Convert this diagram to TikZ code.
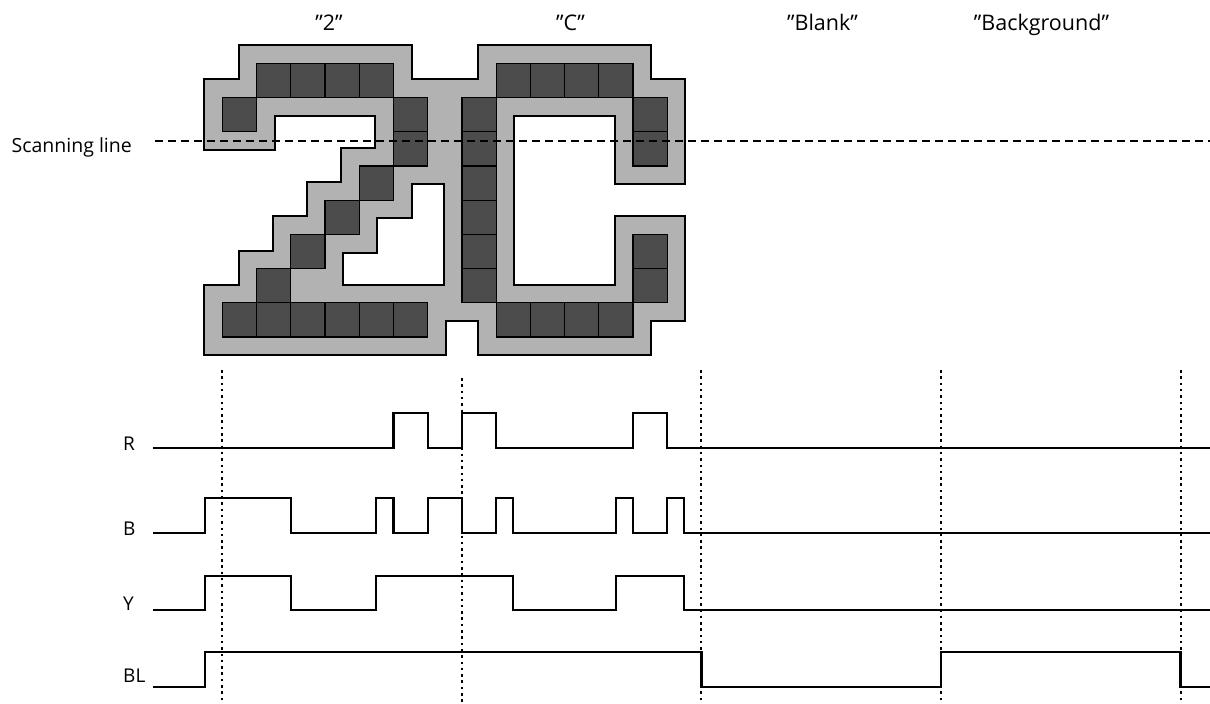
\documentclass[tikz,border=0pt]{standalone}
\usepackage{fontspec}
\setmainfont{Open Sans}
\newcommand\glyphcells{1/0,2/0,3/0,4/0,0/1,5/1,5/2,4/3,3/4,2/5,1/6,%
  0/7,1/7,2/7,3/7,4/7,5/7,%
  8/0,9/0,10/0,11/0,7/1,7/2,7/3,7/4,7/5,7/6,12/1,12/2,12/5,12/6,%
  8/7,9/7,10/7,11/7}
\begin{document}
\begin{tikzpicture}[x=1pt,y=-1pt,
    halofill/.style={fill=black!30},
    cellfill/.style={fill=black!70,draw=black,line width=1.3pt},
    signal/.style={line width=2.2pt,line join=miter},
    gridmark/.style={line width=2pt,dash pattern=on 2.5pt off 3.8pt},
    scanline/.style={line width=2pt,dash pattern=on 8pt off 5pt},
    toplabel/.style={anchor=base,font=\fontsize{21.5}{25}\selectfont},
    siglabel/.style={anchor=base west,inner sep=0pt,font=\fontsize{19}{23}\selectfont}]
  \useasboundingbox (0,0) rectangle (1210,704);

  % character cells, one unit is half a cell
  \begin{scope}[shift={(222.4,63.3)},x=17.11pt,y=-17.11pt]
    \foreach \c/\r in \glyphcells {
      \draw[line width=4pt] (2*\c-1,2*\r-1) rectangle (2*\c+3,2*\r+3);
    }
    \foreach \c/\r in \glyphcells {
      \fill[halofill] (2*\c-1,2*\r-1) rectangle (2*\c+3,2*\r+3);
    }
    \foreach \c/\r in \glyphcells {
      \draw[cellfill] (2*\c,2*\r) rectangle ++(2,2);
    }
  \end{scope}

  \node[toplabel] (lbltwo) at (329,30) {”2”};
  \node[toplabel] (lblc) at (570.5,30) {”C”};
  \node[toplabel] (lblblank) at (822.5,30) {”Blank”};
  \node[toplabel] (lblbg) at (1041.5,30) {”Background”};

  \node[siglabel,anchor=base east,font=\fontsize{19.5}{23}\selectfont]
    (lblscan) at (132,152) {Scanning line};
  \draw[scanline] (155,140.5) -- (1210,140.5);

  \node[siglabel] (lblr) at (123,450.7) {R};
  \node[siglabel] (lblb) at (123,535) {B};
  \node[siglabel] (lbly) at (123,610.5) {Y};
  \node[siglabel] (lblbl) at (123,682.5) {BL};

  % waveforms, one unit is one cell
  \begin{scope}[shift={(222.4,0)},x=34.22pt]
    \foreach \k/\t in {0/370,7/378,14/370,21/370,28/370} {
      \draw[gridmark] (\k,\t) -- (\k,704);
    }
    \draw[signal] (-2.02,448.3) -| (5,413.3) -| (6,448.3) -| (7,413.3)
      -| (8,448.3) -| (12,413.3) -| (13,448.3) -- (28.9,448.3);
    \draw[signal] (-2.02,532.7) -| (-0.5,498) -| (2,532.7) -| (4.5,498)
      -| (5,532.7) -| (6,498) -| (7,532.7) -| (8,498) -| (8.5,532.7)
      -| (11.5,498) -| (12,532.7) -| (13,498) -| (13.5,532.7) -- (28.9,532.7);
    \draw[signal] (-2.02,610) -| (-0.5,575.7) -| (2,610) -| (4.5,575.7)
      -| (8.5,610) -| (11.5,575.7) -| (13.5,610) -- (28.9,610);
    \draw[signal] (-2.02,686.7) -| (-0.5,651.7) -| (14,686.7) -| (21,651.7)
      -| (28,686.7) -- (28.9,686.7);
  \end{scope}
\end{tikzpicture}
\end{document}
